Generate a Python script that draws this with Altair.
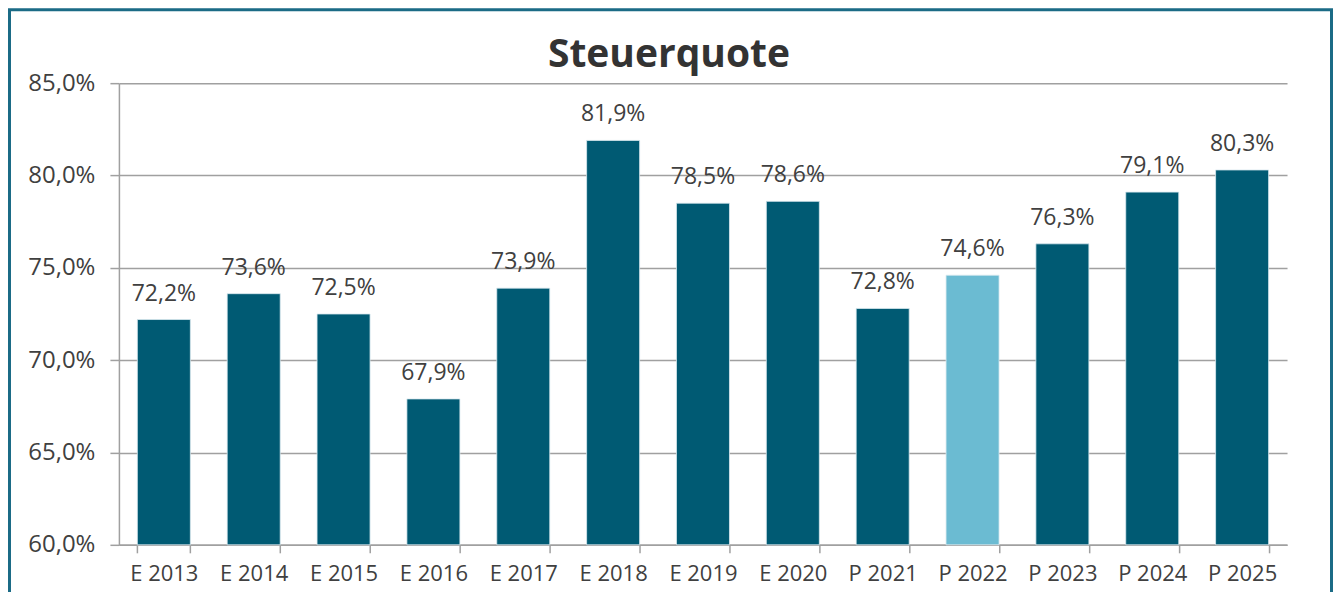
import altair as alt
import pandas as pd

categories = ["E 2013", "E 2014", "E 2015", "E 2016", "E 2017", "E 2018", "E 2019",
              "E 2020", "P 2021", "P 2022", "P 2023", "P 2024", "P 2025"]
values = [72.2, 73.6, 72.5, 67.9, 73.9, 81.9, 78.5, 78.6, 72.8, 74.6, 76.3, 79.1, 80.3]
highlight = "P 2022"
title_text = "Steuerquote"

df = pd.DataFrame({"cat": categories, "v": values})

W, H = 1169, 462
PL, PT, PR, PB = 111, 75, 46, 47
FONT = "Open Sans"
GRID = "#a0a0a0"
TEXT = "#404040"

base = alt.Chart(df).transform_calculate(
    lab="replace(format(datum.v, '.1f'), '.', ',') + '%'"
)

x = alt.X("cat:N", sort=categories, title=None,
          scale=alt.Scale(paddingInner=0.41, paddingOuter=0.205),
          axis=alt.Axis(labelAngle=0, tickBand="extent", tickSize=8, tickColor=GRID,
                        tickWidth=1.5, domainColor=GRID, domainWidth=1.5,
                        labelFont=FONT, labelFontSize=22, labelColor=TEXT,
                        labelPadding=11, grid=False))
y = alt.Y("v:Q", title=None,
          scale=alt.Scale(domain=[60, 85], zero=False, nice=False),
          axis=alt.Axis(values=[60, 65, 70, 75, 80, 85],
                        labelExpr="replace(format(datum.value, '.1f'), '.', ',') + '%'",
                        tickSize=9, tickColor=GRID, tickWidth=1.5,
                        domainColor=GRID, domainWidth=1.5,
                        gridColor=GRID, gridWidth=1.5, grid=True,
                        labelFont=FONT, labelFontSize=24, labelColor=TEXT,
                        labelPadding=15))

bars = base.mark_bar(stroke="#dbeaf0", strokeWidth=0.8).encode(
    x=x, y=y, y2=alt.datum(60),
    color=alt.condition(alt.datum.cat == highlight, alt.value("#6BBBD2"), alt.value("#005A73")),
)

labels = base.mark_text(baseline="alphabetic", dy=-19, font=FONT, fontSize=23,
                        color=TEXT).encode(
    x=alt.X("cat:N", sort=categories), y="v:Q", text="lab:N"
)

title = alt.Chart(alt.Data(values=[{"t": title_text}])).mark_text(
    font=FONT, fontSize=39, fontWeight="bold", color="#333333",
    align="center", baseline="alphabetic", clip=False
).encode(x=alt.value(W / 2 - 34), y=alt.value(-16), text="t:N")

border = alt.Chart(alt.Data(values=[{}])).mark_rect(
    filled=False, stroke="#1b6b86", strokeWidth=3, clip=False
).encode(
    x=alt.value(-PL + 1.5), x2=alt.value(W + PR - 1.5),
    y=alt.value(-PT + 1.5), y2=alt.value(H + PB + 20),
)

chart = alt.layer(bars, labels, title, border).properties(
    width=W, height=H,
    background="white",
    autosize=alt.AutoSizeParams(type="none"),
    padding={"left": PL, "top": PT, "right": PR, "bottom": PB},
).configure_view(stroke=None)

chart.save("out.html", embed_options={"renderer": "svg", "actions": False})
